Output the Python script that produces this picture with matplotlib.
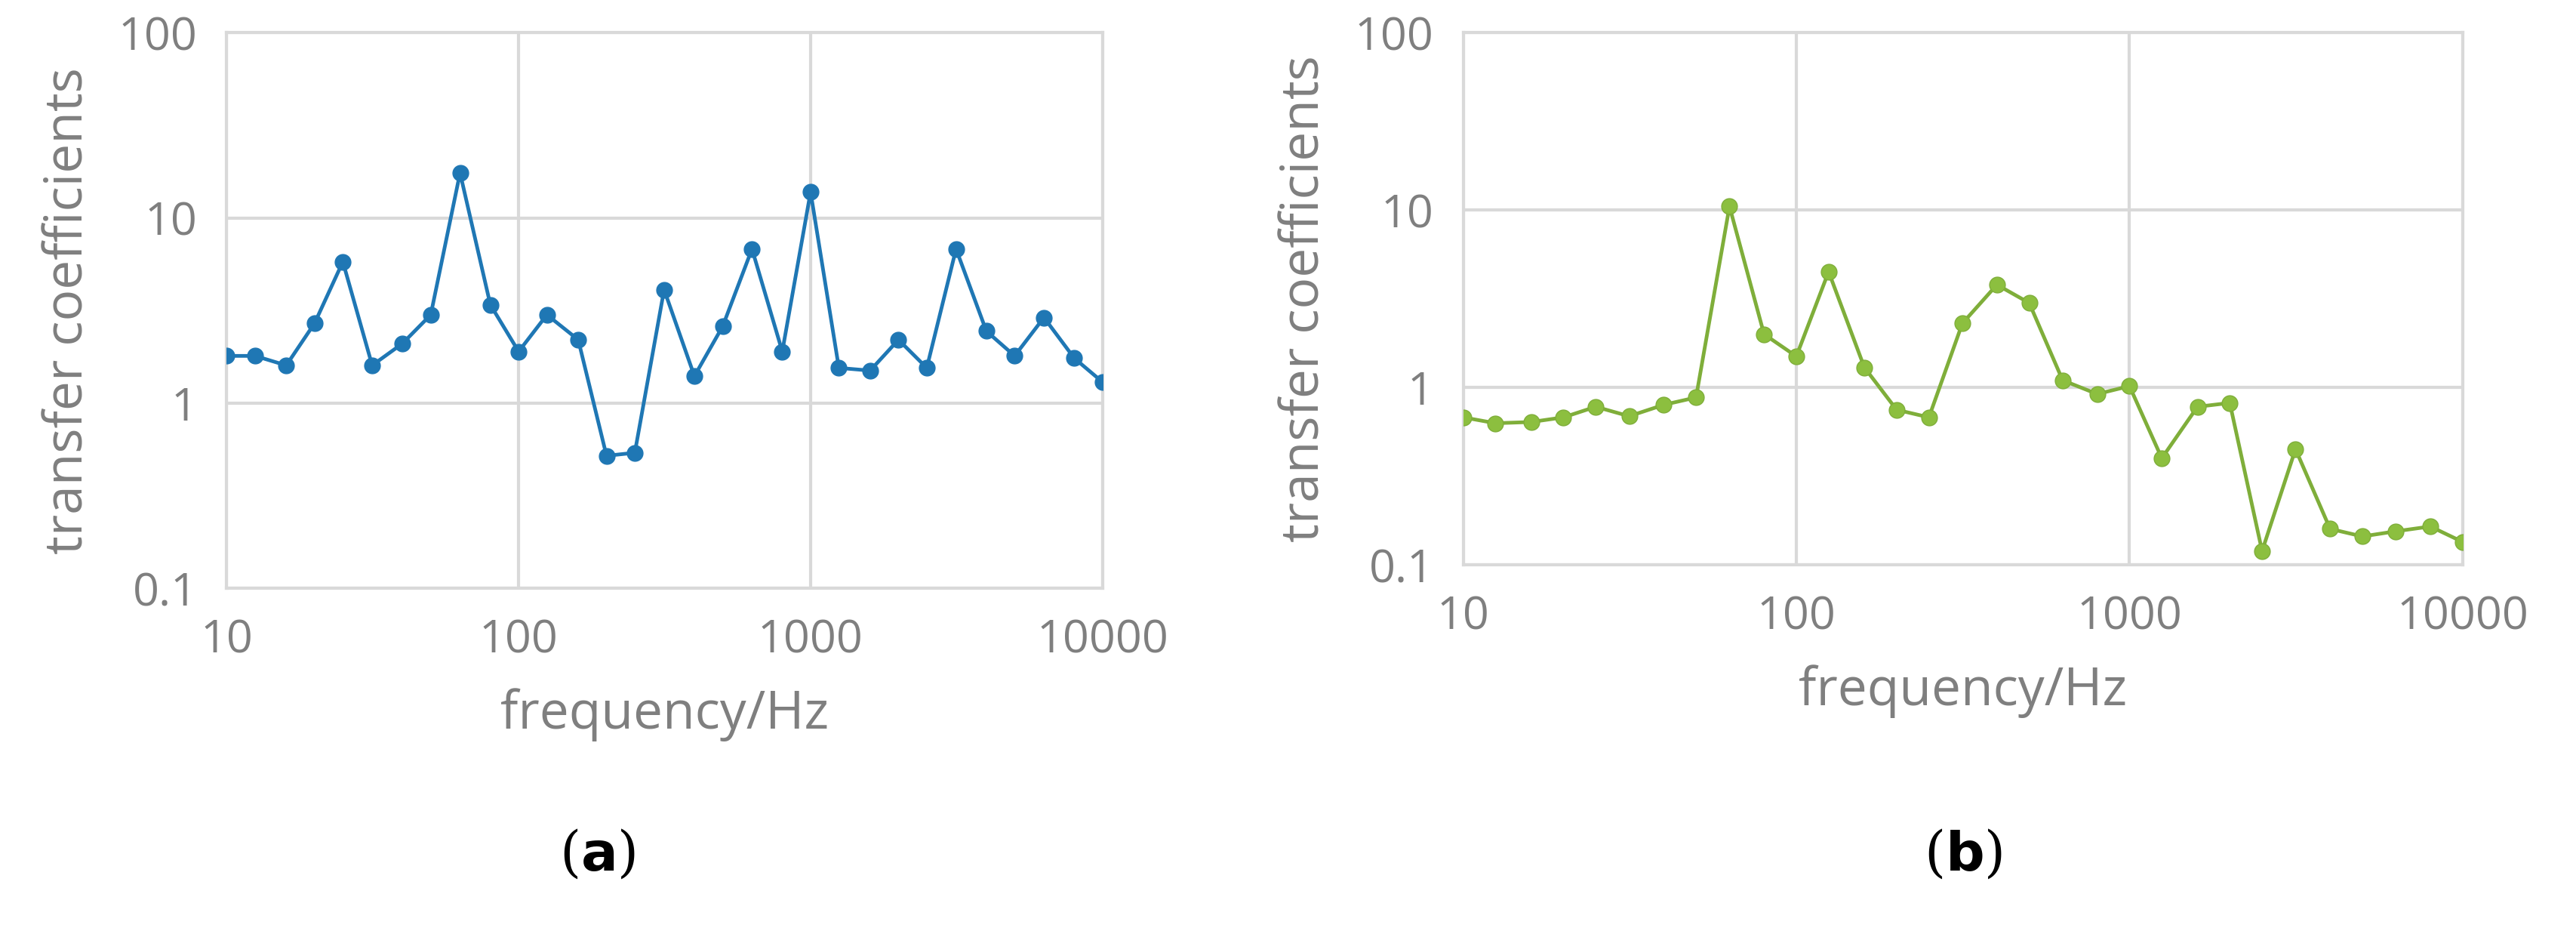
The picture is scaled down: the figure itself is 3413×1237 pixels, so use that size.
import matplotlib.pyplot as plt
from matplotlib.ticker import FixedLocator, NullLocator

freqs = [10, 12.5, 16, 20, 25, 31.5, 40, 50, 63, 80, 100, 125, 160, 200, 250, 315,
         400, 500, 630, 800, 1000, 1250, 1600, 2000, 2500, 3150, 4000, 5000, 6300, 8000, 10000]
coef_a = [1.8, 1.8, 1.6, 2.7, 5.8, 1.6, 2.1, 3.0, 17.5, 3.4, 1.9, 3.0, 2.2, 0.52, 0.54, 4.1,
          1.4, 2.6, 6.8, 1.9, 13.8, 1.55, 1.5, 2.2, 1.55, 6.8, 2.45, 1.8, 2.9, 1.75, 1.3]
coef_b = [0.68, 0.63, 0.64, 0.68, 0.78, 0.69, 0.8, 0.88, 10.5, 2.0, 1.5, 4.5, 1.3, 0.75, 0.68, 2.3,
          3.8, 3.0, 1.1, 0.92, 1.02, 0.4, 0.78, 0.82, 0.12, 0.45, 0.16, 0.145, 0.155, 0.165, 0.135]
xticks = [10, 100, 1000, 10000]
yticks = [0.1, 1, 10, 100]

fig = plt.figure(figsize=(34.13, 12.37), dpi=100)
plt.rcParams['font.family'] = ['Open Sans', 'DejaVu Sans']
grey = '#7f7f7f'

panels = [
    ([0.088, 0.37, 0.34, 0.595], coef_a, '#1f77b4', '#1f77b4', 'a', 0.232),
    ([0.568, 0.395, 0.388, 0.57], coef_b, '#7fae3a', '#8cbf3f', 'b', 0.762),
]
for rect, vals, lc, mc, lab, lx in panels:
    ax = fig.add_axes(rect)
    ax.set_xscale('log')
    ax.set_yscale('log')
    ax.plot(freqs, vals, color=lc, lw=3.5, marker='o', ms=15, mfc=mc, mec=lc, zorder=3)
    ax.set_xlim(10, 10000)
    ax.set_ylim(0.1, 100)
    ax.xaxis.set_major_locator(FixedLocator(xticks))
    ax.yaxis.set_major_locator(FixedLocator(yticks))
    ax.xaxis.set_minor_locator(NullLocator())
    ax.yaxis.set_minor_locator(NullLocator())
    ax.set_xticklabels([str(t) for t in xticks])
    ax.set_yticklabels(['0.1', '1', '10', '100'])
    ax.grid(True, color='#d9d9d9', lw=3)
    for s in ax.spines.values():
        s.set_color('#d9d9d9')
        s.set_linewidth(3)
    ax.tick_params(length=0, labelsize=44, colors=grey, pad=28)
    ax.set_xlabel('frequency/Hz', fontsize=50, color=grey, labelpad=24)
    ax.set_ylabel('transfer coefficients', fontsize=50, color=grey, labelpad=22)
    fig.text(lx, 0.085, f'($\\mathbf{{{lab}}}$)', ha='center', va='center', fontsize=52,
             family='DejaVu Serif')

fig.savefig('out.png', dpi=100)
